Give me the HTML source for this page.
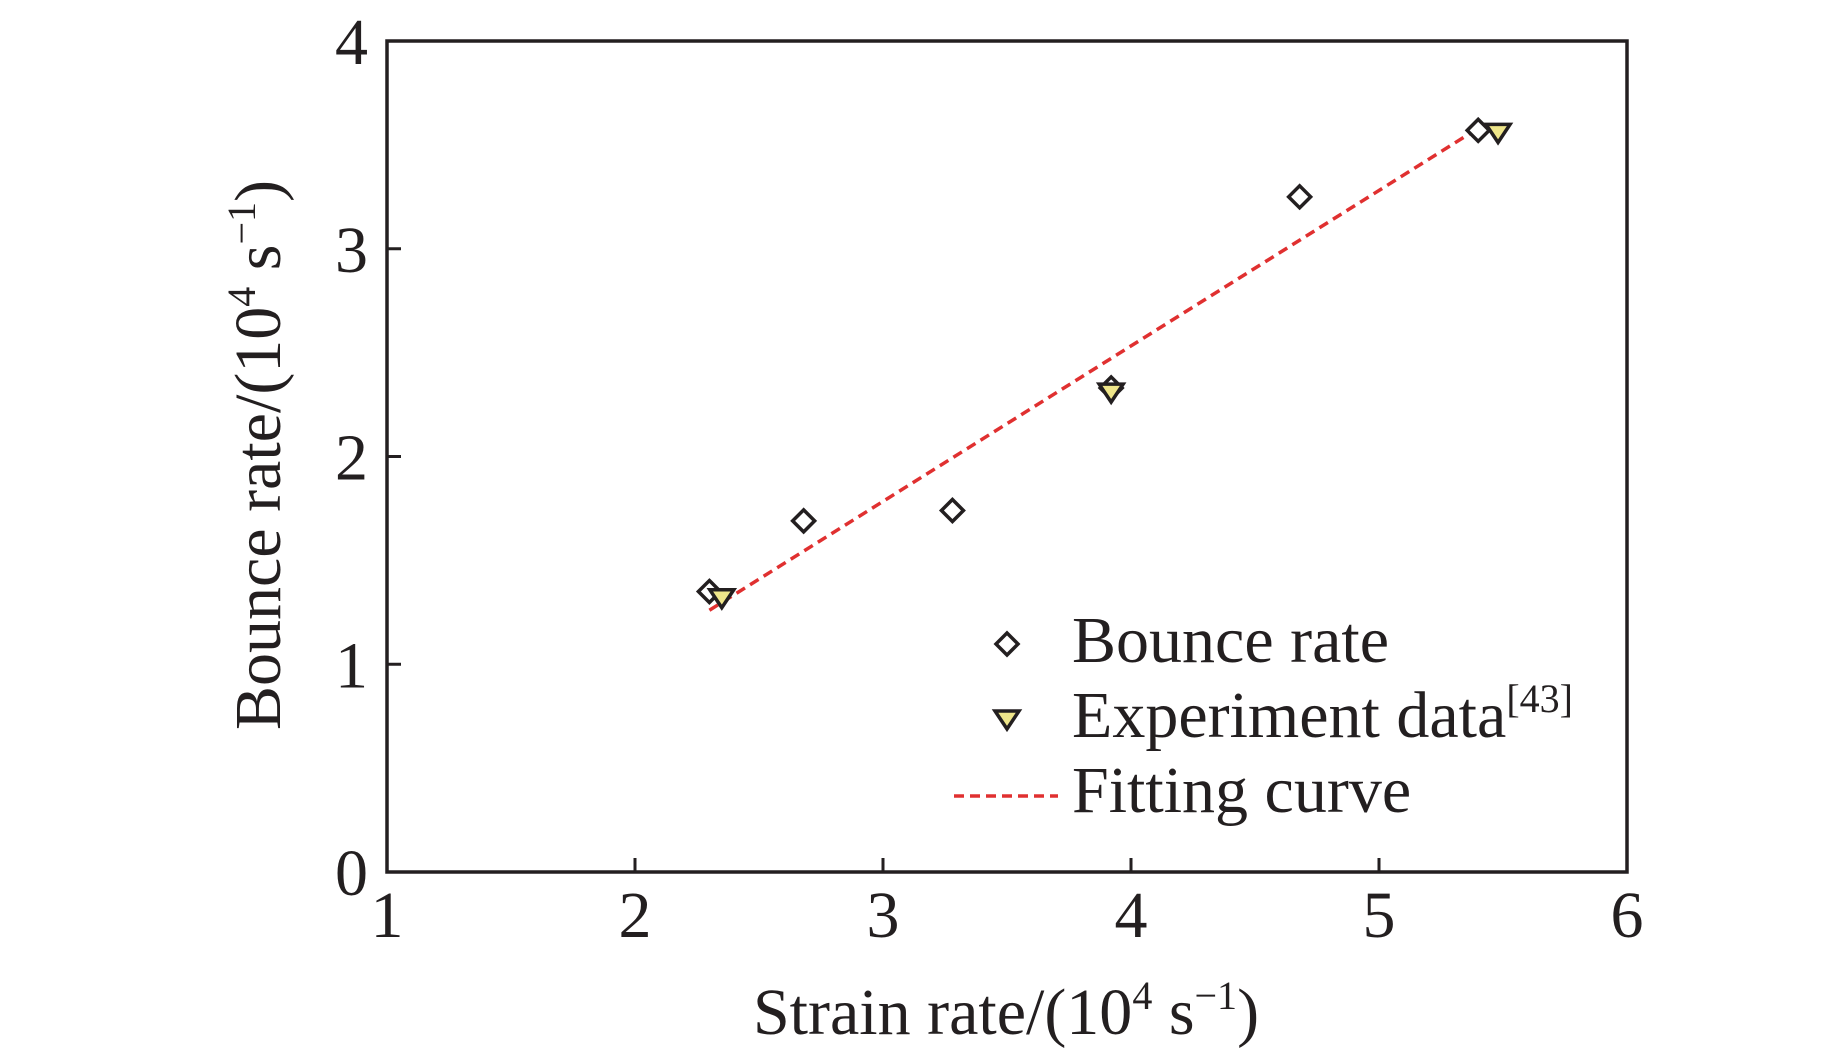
<!DOCTYPE html>
<html><head><meta charset="utf-8"><style>
body{margin:0;background:#fff}
svg{display:block;font-family:"Liberation Serif",serif;fill:#231f20}
</style></head><body>
<svg id="chart" width="1843" height="1051" viewBox="0 0 1843 1051" xmlns="http://www.w3.org/2000/svg">
<g id="axes"></g><g id="marks"></g>
<text x="1006" y="1034" font-size="66" text-anchor="middle">Strain rate/(10<tspan font-size="40" dy="-25">4</tspan><tspan dy="25"> s</tspan><tspan font-size="40" dy="-25">−1</tspan><tspan dy="25">)</tspan></text>
<text transform="translate(280,455) rotate(-90)" font-size="66" text-anchor="middle">Bounce rate/(10<tspan font-size="40" dy="-25">4</tspan><tspan dy="25"> s</tspan><tspan font-size="40" dy="-25">−1</tspan><tspan dy="25">)</tspan></text>
<g>
<path d="M1007 633 L1018 644 L1007 655 L996 644 Z" fill="#fff" stroke="#231f20" stroke-width="3.5"/>
<text x="1072" y="662" font-size="66">Bounce rate</text>
<path d="M995 711 L1019 711 L1007 729 Z" fill="#efe68a" stroke="#231f20" stroke-width="3.5"/>
<text x="1072" y="737" font-size="66">Experiment data<tspan font-size="40" dy="-25">[43]</tspan></text>
<line x1="954" y1="796" x2="1058" y2="796" stroke="#e03030" stroke-width="3.5" stroke-dasharray="10,6"/>
<text x="1072" y="812" font-size="66">Fitting curve</text>
</g>
</svg>
<script>
const xTicks=[1,2,3,4,5,6];
const yTicks=[0,1,2,3,4];
const bounceX=[2.3,2.68,3.28,3.92,4.68,5.4];
const bounceY=[1.35,1.69,1.74,2.33,3.25,3.57];
const expX=[2.35,3.92,5.48];
const expY=[1.32,2.31,3.56];
const fitX=[2.3,5.4];
const fitY=[1.26,3.58];
const L=387,R=1627,T=41,B=872;
const sx=v=>L+(v-1)/5*(R-L), sy=v=>B-v/4*(B-T);
const NS="http://www.w3.org/2000/svg";
function mk(tag,attrs,parent){const e=document.createElementNS(NS,tag);for(const k in attrs)e.setAttribute(k,attrs[k]);parent.appendChild(e);return e;}
const ax=document.getElementById('axes'),mg=document.getElementById('marks');
const frame=mk('rect',{x:L,y:T,width:R-L,height:B-T,fill:'none',stroke:'#231f20','stroke-width':3.5},ax);


xTicks.forEach(t=>{
  const tk=mk('line',{x1:sx(t),x2:sx(t),y1:B,y2:B-14,stroke:'#231f20','stroke-width':3},ax);
  
  
  const lb=mk('text',{x:sx(t),y:937,'font-size':66,'text-anchor':'middle'},ax);lb.textContent=t;
  
  
});
yTicks.forEach(t=>{
  const tk=mk('line',{x1:L,x2:L+14,y1:sy(t),y2:sy(t),stroke:'#231f20','stroke-width':3},ax);
  
  
  const lb=mk('text',{x:368,y:sy(t)+23,'font-size':66,'text-anchor':'end'},ax);lb.textContent=t;
  
  
});
const fit=mk('line',{x1:sx(fitX[0]),y1:sy(fitY[0]),x2:sx(fitX[1]),y2:sy(fitY[1]),stroke:'#e03030','stroke-width':3.5,'stroke-dasharray':'10,6'},mg);


bounceX.forEach((x,i)=>{const cx=sx(x),cy=sy(bounceY[i]);
  const d=mk('path',{d:`M${cx} ${cy-11} L${cx+11} ${cy} L${cx} ${cy+11} L${cx-11} ${cy} Z`,fill:'#fff',stroke:'#231f20','stroke-width':3.5},mg);
  
  
});
expX.forEach((x,i)=>{const cx=sx(x),cy=sy(expY[i]);
  const d=mk('path',{d:`M${cx-12} ${cy-8} L${cx+12} ${cy-8} L${cx} ${cy+10} Z`,fill:'#efe68a',stroke:'#231f20','stroke-width':3.5},mg);
  
  
});
</script>
</body></html>
